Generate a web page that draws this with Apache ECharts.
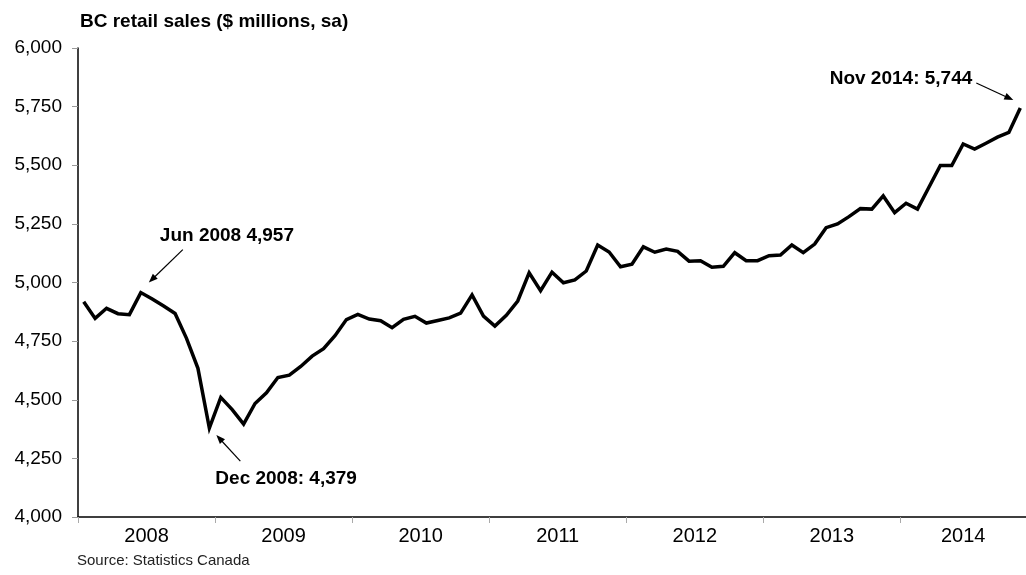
<!DOCTYPE html>
<html><head><meta charset="utf-8">
<script src="https://cdn.jsdelivr.net/npm/echarts@6/dist/echarts.min.js"></script>
<style>html,body{margin:0;padding:0;background:#fff}#c{width:1026px;height:575px}</style>
</head><body><div id="c"></div>
<script>
const years = ['2008','2009','2010','2011','2012','2013','2014'];
const monthNames = ['Jan','Feb','Mar','Apr','May','Jun','Jul','Aug','Sep','Oct','Nov','Dec'];
// BC retail sales, $ millions, seasonally adjusted, Jan 2008 - Nov 2014
const sales = [
  4918,4847,4890,4867,4863,4957,4930,4900,4868,4762,4634,4379,
  4510,4458,4396,4484,4530,4595,4605,4642,4686,4718,4773,4842,
  4864,4844,4837,4807,4843,4856,4827,4838,4849,4869,4947,4857,
  4814,4860,4921,5041,4965,5044,4999,5011,5049,5160,5130,5067,
  5078,5152,5129,5143,5133,5091,5093,5065,5069,5127,5093,5093,
  5114,5117,5160,5127,5164,5234,5250,5281,5315,5313,5369,5298,
  5338,5313,5406,5499,5499,5591,5569,5594,5620,5640,5744
];
const yMin = 4000, yMax = 6000, yStep = 250;
const titleText = 'BC retail sales ($ millions, sa)';
const sourceText = 'Source: Statistics Canada';
const annotations = [
  {text: 'Jun 2008 4,957', index: 5},
  {text: 'Dec 2008: 4,379', index: 11},
  {text: 'Nov 2014: 5,744', index: 82}
];
const categories = sales.map((v, i) => monthNames[i % 12] + ' ' + years[Math.floor(i / 12)]);

const FONT = '"Liberation Sans", Arial, Helvetica, sans-serif';
const chart = echarts.init(document.getElementById('c'), null, {renderer: 'canvas'});

function fmt(v) { return v.toLocaleString('en-US'); }

chart.setOption({
  animation: false,
  backgroundColor: '#fff',
  title: [
    {text: titleText, left: 80, top: 12, padding: 0,
     textStyle: {fontFamily: FONT, fontSize: 19, fontWeight: 'bold', color: '#000'}},
    {text: sourceText, left: 77, top: 553, padding: 0,
     textStyle: {fontFamily: FONT, fontSize: 15, fontWeight: 'normal', color: '#222'}}
  ],
  grid: {left: 78, right: 0, top: 48, bottom: 58, containLabel: false},
  xAxis: {
    type: 'category',
    data: categories,
    boundaryGap: true,
    axisLine: {lineStyle: {color: '#000', width: 1.5}},
    axisTick: {show: true, length: 6, interval: (i) => i % 12 === 0, lineStyle: {color: '#aaa', width: 1}},
    axisLabel: {
      interval: (i) => (i % 12 === 5 && i < 72) || i === 77,
      formatter: (v, i) => {
        const y = v.split(' ')[1];
        return (i === 77 ? '{b|' : '{a|') + y + '}';
      },
      margin: 9,
      color: '#000',
      fontFamily: FONT, fontSize: 20,
      rich: {
        a: {fontFamily: FONT, fontSize: 20, color: '#000', padding: [0, 0, 0, 11.4]},
        b: {fontFamily: FONT, fontSize: 20, color: '#000'}
      }
    },
    splitLine: {show: false}
  },
  yAxis: {
    type: 'value',
    min: yMin, max: yMax, interval: yStep,
    axisLine: {show: true, lineStyle: {color: '#000', width: 1.5}},
    axisTick: {show: true, length: 6, lineStyle: {color: '#999', width: 1}},
    axisLabel: {formatter: fmt, margin: 16, color: '#000', fontFamily: FONT, fontSize: 19},
    splitLine: {show: false}
  },
  series: [{
    type: 'line',
    data: sales,
    symbol: 'none',
    lineStyle: {color: '#000', width: 3.5, join: 'miter'},
    silent: true
  }]
});

// Annotations anchored to their data points
const offsets = [
  {tip: [8, -10], tail: [42, -43], text: [19, -57], align: 'left'},
  {tip: [7, 7], tail: [31, 33], text: [6, 51], align: 'left'},
  {tip: [-7, -8], tail: [-44, -25], text: [-48, -29], align: 'right'}
];
const graphics = [];
annotations.forEach((a, k) => {
  const p = chart.convertToPixel({seriesIndex: 0}, [a.index, sales[a.index]]);
  const o = offsets[k];
  const tx = p[0] + o.tip[0], ty = p[1] + o.tip[1];
  const sx = p[0] + o.tail[0], sy = p[1] + o.tail[1];
  const dx = tx - sx, dy = ty - sy, len = Math.hypot(dx, dy);
  const ux = dx / len, uy = dy / len;
  const hl = 9, hw = 3.5;
  const bx = tx - ux * hl, by = ty - uy * hl;
  graphics.push({type: 'line', shape: {x1: sx, y1: sy, x2: bx + ux * 1, y2: by + uy * 1},
                 style: {stroke: '#000', lineWidth: 1.2}, silent: true});
  graphics.push({type: 'polygon', shape: {points: [[tx, ty], [bx - uy * hw, by + ux * hw], [bx + uy * hw, by - ux * hw]]},
                 style: {fill: '#000'}, silent: true});
  graphics.push({type: 'text', x: p[0] + o.text[0], y: p[1] + o.text[1], silent: true,
                 style: {text: a.text, fill: '#000', font: 'bold 19px ' + FONT,
                         textAlign: o.align, textVerticalAlign: 'middle'}});
});
chart.setOption({graphic: graphics});
</script>
</body></html>
